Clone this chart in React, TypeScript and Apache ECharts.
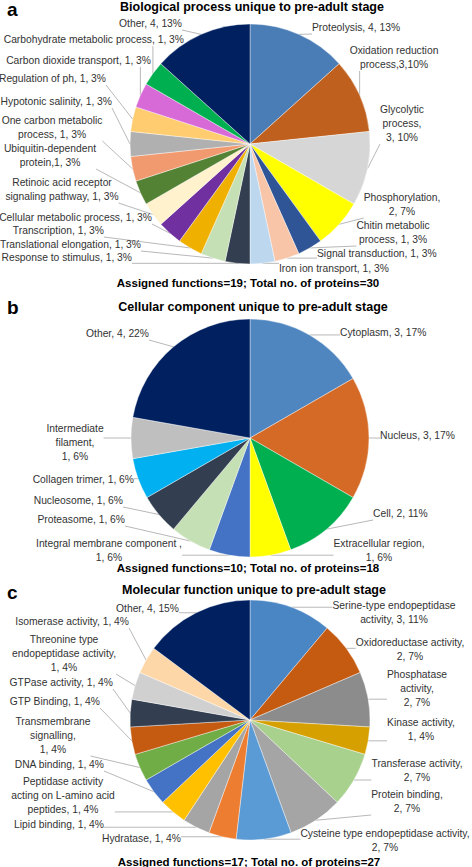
import React, { useEffect, useRef } from "react";
import * as echarts from "echarts";

// ---------- Data ----------
// (a) Biological process
const bpLabels = [
  "Proteolysis, 4, 13%",
  "Oxidation reduction\nprocess,3,10%",
  "Glycolytic\nprocess,\n3, 10%",
  "Phosphorylation,\n2, 7%",
  "Chitin metabolic\nprocess, 1, 3%",
  "Signal transduction, 1, 3%",
  "Iron ion transport, 1, 3%",
  "Response to stimulus, 1, 3%",
  "Translational elongation, 1, 3%",
  "Transcription, 1, 3%",
  "Cellular metabolic process, 1, 3%",
  "Retinoic acid receptor\nsignaling pathway, 1, 3%",
  "Ubiquitin-dependent\nprotein,1, 3%",
  "One carbon metabolic\nprocess, 1, 3%",
  "Hypotonic salinity, 1, 3%",
  "Regulation of ph, 1, 3%",
  "Carbon dioxide transport, 1, 3%",
  "Carbohydrate metabolic process, 1, 3%",
  "Other, 4, 13%",
];
const bpValues = [4, 3, 3, 2, 1, 1, 1, 1, 1, 1, 1, 1, 1, 1, 1, 1, 1, 1, 4];

// (b) Cellular component
const ccLabels = [
  "Cytoplasm, 3, 17%",
  "Nucleus, 3, 17%",
  "Cell, 2, 11%",
  "Extracellular region,\n1, 6%",
  "Integral membrane component ,\n1, 6%",
  "Proteasome, 1, 6%",
  "Nucleosome, 1, 6%",
  "Collagen trimer, 1, 6%",
  "Intermediate\nfilament,\n1, 6%",
  "Other, 4, 22%",
];
const ccValues = [3, 3, 2, 1, 1, 1, 1, 1, 1, 4];

// (c) Molecular function
const mfLabels = [
  "Serine-type endopeptidase\nactivity, 3, 11%",
  "Oxidoreductase activity,\n2, 7%",
  "Phosphatase\nactivity,\n2, 7%",
  "Kinase activity,\n1, 4%",
  "Transferase activity,\n2, 7%",
  "Protein binding,\n2, 7%",
  "Cysteine type endopeptidase activity,\n2, 7%",
  "Hydratase, 1, 4%",
  "Lipid binding, 1, 4%",
  "Peptidase activity\nacting on L-amino acid\npeptides, 1, 4%",
  "DNA binding, 1, 4%",
  "Transmembrane\nsignalling,\n1, 4%",
  "GTP Binding, 1, 4%",
  "GTPase activity, 1, 4%",
  "Threonine type\nendopeptidase activity,\n1, 4%",
  "Isomerase activity, 1, 4%",
  "Other, 4, 15%",
];
const mfValues = [3, 2, 2, 1, 2, 2, 2, 1, 1, 1, 1, 1, 1, 1, 1, 1, 4];

const titles = [
  "Biological process unique to pre-adult stage",
  "Cellular component unique to pre-adult stage",
  "Molecular function unique to pre-adult stage",
];
const subtitles = [
  "Assigned functions=19; Total no. of proteins=30",
  "Assigned functions=10; Total no. of proteins=18",
  "Assigned functions=17; Total no. of proteins=27",
];
const panelLetters = ["a", "b", "c"];

// ---------- Styles / layout ----------
const bpColors = [
  "#4a7db5", "#c0601e", "#d6d6d6", "#ffff00", "#2f5597", "#f8c5a8", "#bdd7ee",
  "#333f50", "#c5e0b4", "#f0b000", "#7030a0", "#fff2cc", "#548235", "#f19a70",
  "#b0b0b0", "#ffcc70", "#d86ad8", "#00b050", "#002060",
];
const ccColors = [
  "#4f86c0", "#d46a26", "#00b050", "#ffff00", "#4472c4", "#c5e0b4", "#333f50",
  "#00b0f0", "#bfbfbf", "#002060",
];
const mfColors = [
  "#4a86c4", "#c55a11", "#8c8c8c", "#d6a100", "#a9d18e", "#a5a5a5", "#5b9bd5",
  "#ed7d31", "#a5a5a5", "#ffc000", "#4472c4", "#70ad47", "#c55a11", "#333f50",
  "#d0d0d0", "#fdd7a8", "#002060",
];

type Pos = [number, number, string];
const bpLabelPos: Pos[] = [
  [312, 27, "left"], [394, 57, "center"], [402, 123, "center"], [402, 204, "center"],
  [393, 232, "center"], [317, 253, "left"], [279, 268, "left"], [132, 257, "right"],
  [141, 244, "right"], [104, 230, "right"], [152, 217, "right"], [62, 189, "center"],
  [50, 155, "center"], [52, 127, "center"], [112, 101, "right"], [106, 78, "right"],
  [151, 60, "right"], [184, 39, "right"], [182, 23, "right"],
];
const ccLabelPos: Pos[] = [
  [340, 332, "left"], [380, 435, "left"], [373, 513, "left"], [379, 550, "center"],
  [109, 550, "center"], [125, 519, "right"], [123, 500, "right"], [134, 479, "right"],
  [75, 442, "center"], [149, 333, "right"],
];
const mfLabelPos: Pos[] = [
  [394, 612, "center"], [410, 649, "center"], [417, 688, "center"], [421, 729, "center"],
  [417, 770, "center"], [407, 801, "center"], [385, 840, "center"], [181, 838, "right"],
  [104, 824, "right"], [63, 795, "center"], [104, 764, "right"], [53, 735, "center"],
  [100, 701, "right"], [113, 682, "right"], [64, 653, "center"], [129, 621, "right"],
  [179, 608, "right"],
];

const FONT = "'Liberation Sans', Arial, sans-serif";
const LABEL_SIZE = 10.3;
const LABEL_COLOR = "#333333";
const LINE_COLOR = "#a6a6a6";

function makePie(
  cx: number,
  cy: number,
  r: number,
  labels: string[],
  values: number[],
  colors: string[],
  pos: Pos[]
) {
  return {
    type: "pie",
    center: [cx, cy],
    radius: r,
    startAngle: 90,
    clockwise: true,
    avoidLabelOverlap: false,
    silent: true,
    itemStyle: { borderColor: "#ffffff", borderWidth: 0.4 },
    data: values.map((v, i) => ({
      name: labels[i],
      value: v,
      itemStyle: { color: colors[i] },
    })),
    label: {
      show: true,
      position: "outside",
      formatter: "{b}",
      fontSize: LABEL_SIZE,
      fontFamily: FONT,
      color: LABEL_COLOR,
      lineHeight: 14,
    },
    labelLine: {
      show: true,
      length: 6,
      length2: 6,
      lineStyle: { color: LINE_COLOR, width: 0.8 },
    },
    labelLayout: (p: any) => {
      const [x, y, align] = pos[p.dataIndex];
      const w = p.labelRect.width;
      const h = p.labelRect.height;
      const rx = align === "left" ? x : align === "right" ? x - w : x - w / 2;
      const ry = y - h / 2;
      const a =
        p.labelLinePoints && p.labelLinePoints.length
          ? p.labelLinePoints[0]
          : [cx, cy];
      const px = Math.min(Math.max(a[0], rx), rx + w);
      const py = Math.min(Math.max(a[1], ry), ry + h);
      return {
        x,
        y,
        align,
        verticalAlign: "middle",
        labelLinePoints: [
          [px, py],
          [a[0], a[1]],
        ],
      };
    },
  };
}

const panelY = [
  { letter: 9, title: 7, sub: 283 },
  { letter: 307, title: 307, sub: 568 },
  { letter: 592, title: 590, sub: 862 },
];
const titleX = [252, 253, 254];
const subX = [248, 248, 249];

export default function App() {
  const ref = useRef<HTMLDivElement>(null);
  useEffect(() => {
    if (!ref.current) return;
    const chart = echarts.init(ref.current, null, { renderer: "svg" });
    const graphics: any[] = [];
    for (let i = 0; i < 3; i++) {
      graphics.push({
        type: "text",
        x: 7,
        y: panelY[i].letter,
        style: {
          text: panelLetters[i],
          font: `bold 19px ${FONT}`,
          fill: "#000",
          align: "left",
          verticalAlign: "middle",
        },
      });
      graphics.push({
        type: "text",
        x: titleX[i],
        y: panelY[i].title,
        style: {
          text: titles[i],
          font: `bold 12.5px ${FONT}`,
          fill: "#000",
          align: "center",
          verticalAlign: "middle",
        },
      });
      graphics.push({
        type: "text",
        x: subX[i],
        y: panelY[i].sub,
        style: {
          text: subtitles[i],
          font: `bold 11.5px ${FONT}`,
          fill: "#000",
          align: "center",
          verticalAlign: "middle",
        },
      });
    }
    chart.setOption({
      animation: false,
      backgroundColor: "#ffffff",
      graphic: graphics,
      series: [
        makePie(250, 144, 120, bpLabels, bpValues, bpColors, bpLabelPos),
        makePie(250, 438, 119, ccLabels, ccValues, ccColors, ccLabelPos),
        makePie(250, 720, 120, mfLabels, mfValues, mfColors, mfLabelPos),
      ],
    });
    return () => chart.dispose();
  }, []);
  return (
    <div
      ref={ref}
      style={{
        position: "fixed",
        left: 0,
        top: 0,
        width: 472,
        height: 867,
        background: "#fff",
      }}
    />
  );
}
